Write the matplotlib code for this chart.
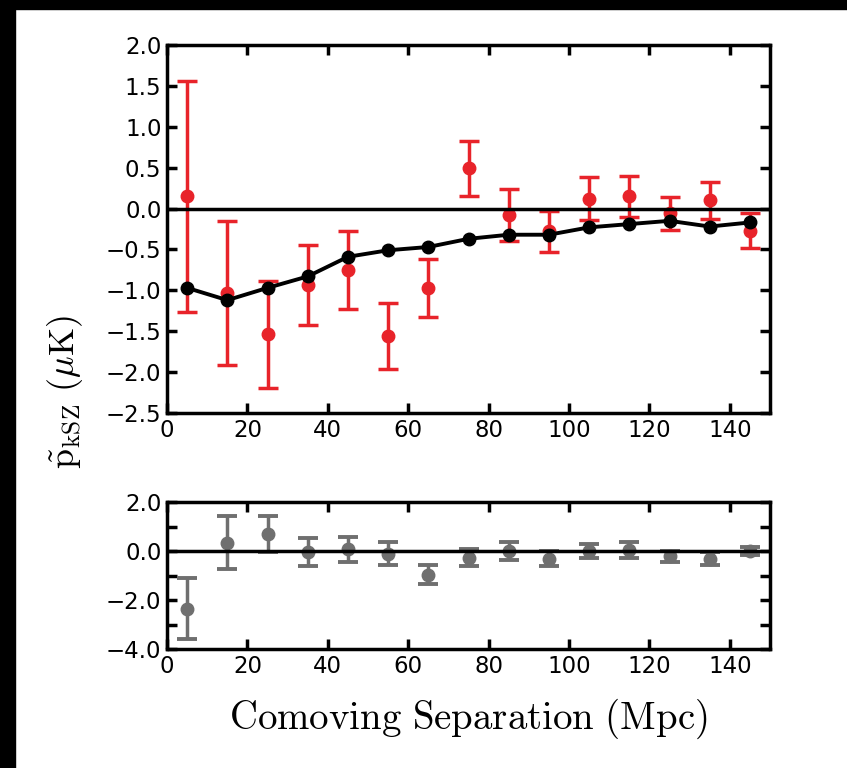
import numpy as np
import matplotlib.pyplot as plt
from matplotlib.patches import Rectangle

plt.rcParams['mathtext.fontset'] = 'cm'

# comoving separation bins (Mpc)
sep = [5, 15, 25, 35, 45, 55, 65, 75, 85, 95, 105, 115, 125, 135, 145]

# measured pairwise kSZ (uK) and errors
p_obs = [0.15, -1.03, -1.54, -0.94, -0.75, -1.56, -0.97, 0.49, -0.08, -0.28,
         0.12, 0.15, -0.06, 0.10, -0.27]
p_err = [1.41, 0.88, 0.66, 0.49, 0.48, 0.40, 0.35, 0.34, 0.32, 0.25,
         0.265, 0.25, 0.20, 0.23, 0.21]

# model curve
p_model = [-0.97, -1.12, -0.97, -0.83, -0.59, -0.51, -0.47, -0.37, -0.32, -0.32,
           -0.23, -0.19, -0.15, -0.22, -0.17]

# null test
p_null = [-2.35, 0.34, 0.68, -0.04, 0.07, -0.11, -0.96, -0.27, -0.01, -0.31,
          0.00, 0.03, -0.22, -0.31, -0.01]
null_err = [1.26, 1.09, 0.73, 0.56, 0.52, 0.48, 0.40, 0.34, 0.36, 0.30,
            0.30, 0.32, 0.22, 0.26, 0.17]

W, H = 847, 768
fig = plt.figure(figsize=(W / 100, H / 100), dpi=100)
fig.patch.set_facecolor('white')
# black strips at the top and left edge of the scan
fig.add_artist(Rectangle((0, 1 - 9 / H), 1, 9 / H, transform=fig.transFigure,
                         color='black', zorder=-5))
fig.add_artist(Rectangle((0, 0), 15 / W, 1, transform=fig.transFigure,
                         color='black', zorder=-5))

ax1 = fig.add_axes([167 / W, 1 - 413 / H, 603 / W, 368 / H])
ax2 = fig.add_axes([167 / W, 1 - 649 / H, 603 / W, 147 / H])

red = '#e8232a'
grey = '#6f6f6f'

ax1.errorbar(sep, p_obs, yerr=p_err, fmt='o', color=red, ms=9, elinewidth=2.5,
             capsize=7, capthick=2.5, zorder=2)
ax1.axhline(0, color='black', lw=2.5, zorder=2.5)
ax1.plot(sep, p_model, 'o-', color='black', ms=9, lw=2.8, zorder=3)
ax1.set_xlim(0, 150)
ax1.set_ylim(-2.5, 2.0)
ax1.set_yticks(np.arange(-2.5, 2.01, 0.5))
ax1.set_xticks(np.arange(0, 141, 20))

ax2.errorbar(sep, p_null, yerr=null_err, fmt='o', color=grey, ms=9, elinewidth=2.5,
             capsize=7, capthick=2.8, zorder=2)
ax2.axhline(0, color='black', lw=2.5, zorder=2.5)
ax2.set_xlim(0, 150)
ax2.set_ylim(-4, 2)
ax2.set_yticks(np.arange(-4, 2.1, 1))
ax2.set_xticks(np.arange(0, 141, 20))

for ax in (ax1, ax2):
    for s in ax.spines.values():
        s.set_linewidth(2.5)
    ax.tick_params(direction='in', length=7, width=2.5, labelsize=16.5,
                   top=True, right=True, pad=4)

ax2.set_yticklabels(['\u22124.0', '', '\u22122.0', '', '0.0', '', '2.0'])

fig.text(468 / W, 1 - 719 / H, r'$\mathrm{Comoving\ Separation\ (Mpc)}$',
         ha='center', va='center', fontsize=28)
fig.text(65 / W, 1 - 392 / H, r'$\tilde{\mathrm{p}}_{\mathrm{kSZ}}\ (\mu\mathrm{K})$',
         rotation=90, ha='center', va='center', fontsize=26)

fig.savefig('out.png', dpi=100)
